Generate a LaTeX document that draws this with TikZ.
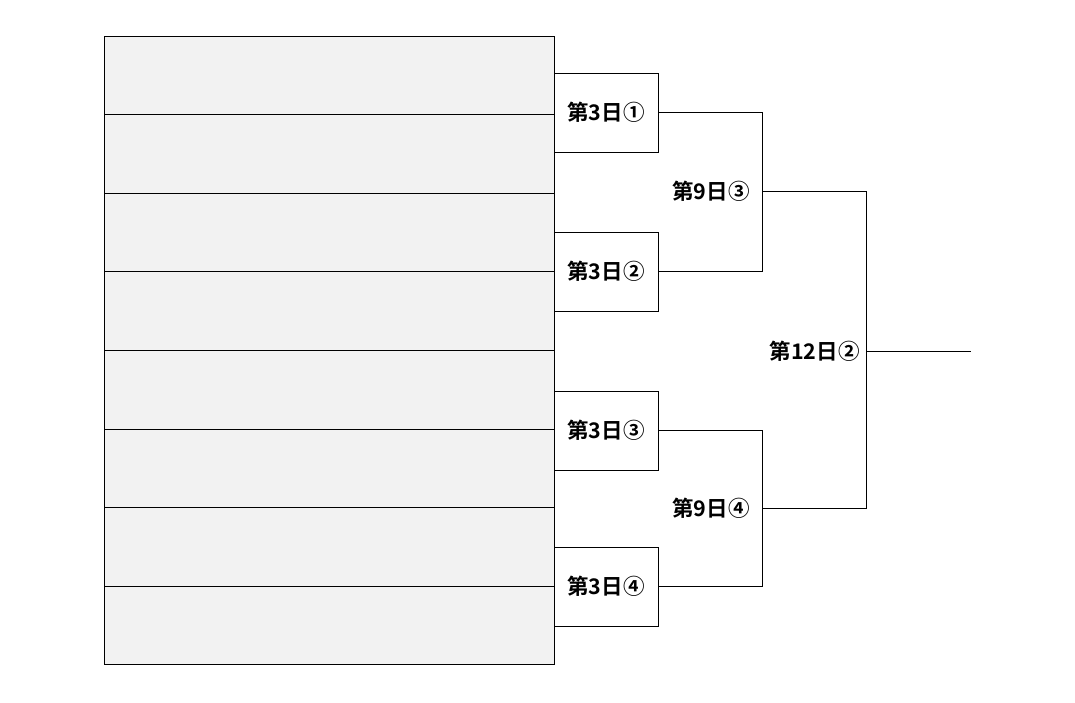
\documentclass[tikz,border=0pt]{standalone}
\usepackage{fontspec}
\newfontfamily\jpfont{Noto Sans CJK JP}[BoldFont={Noto Sans CJK JP Bold}]
\usetikzlibrary{positioning}
\tikzset{
  slot/.style = {draw, fill=gray!10, minimum width=450pt, minimum height=78.6pt, inner sep=0pt, outer sep=0pt},
  game/.style = {draw, fill=white, minimum width=104pt, minimum height=79pt, inner sep=0pt, outer sep=0pt},
  lbl/.style = {font=\jpfont\bfseries\fontsize{21.5pt}{21.5pt}\selectfont, inner sep=0pt},
  wire/.style = {line width=0.8pt}
}
\begin{document}
\begin{tikzpicture}[x=1pt, y=-1pt, line width=0.8pt]
    \useasboundingbox (0, 0) rectangle (1075, 702);
    % entry slots
    \foreach \i in {0,...,7}
        \node [slot, anchor=north west] (s\i) at (104, {36 + \i*78.6}) {};
    % first round boxes
    \node [game, anchor=north west] (g1) at (554, 73) {};
    \node [game, anchor=north west] (g2) at (554, 232) {};
    \node [game, anchor=north west] (g3) at (554, 391) {};
    \node [game, anchor=north west] (g4) at (554, 547) {};
    \node [lbl] at (g1) {第3日①};
    \node [lbl] at (g2) {第3日②};
    \node [lbl] at (g3) {第3日③};
    \node [lbl] at (g4) {第3日④};
    % semifinal
    \coordinate (m1) at (762, 191);
    \coordinate (m2) at (762, 508);
    \draw [wire] (g1.east) -- (g1.east -| m1) |- (g2.east);
    \draw [wire] (g3.east) -- (g3.east -| m2) |- (g4.east);
    \node [lbl, left=12pt of m1] (r1) {第9日③};
    \node [lbl, left=12pt of m2] (r2) {第9日④};
    % final
    \coordinate (f) at (866, 351);
    \coordinate (w) at (971, 351);
    \draw [wire] (m1) -- (m1 -| f) |- (m2);
    \draw [wire] (f) -- (w);
    \node [lbl, left=6pt of f] (fin) {第12日②};
\end{tikzpicture}
\end{document}
